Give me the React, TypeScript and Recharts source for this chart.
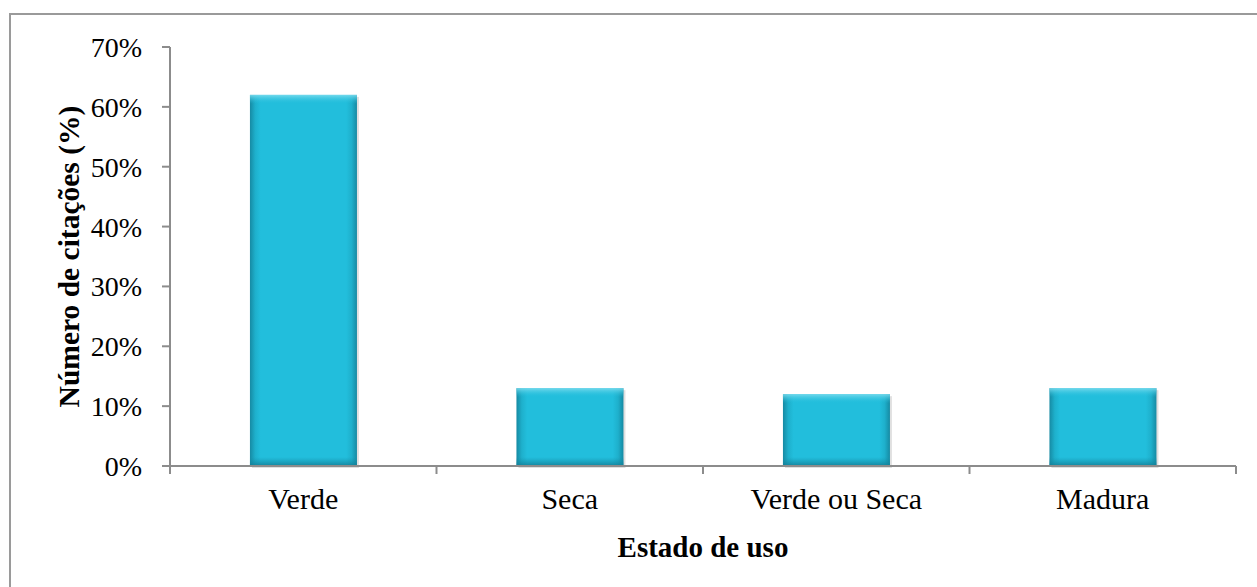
import React from "react"
import { BarChart, Bar, XAxis, YAxis } from "recharts"

const categories = ["Verde", "Seca", "Verde ou Seca", "Madura"]
const citacoes = [62, 13, 12, 13]
const yTicks = [0, 10, 20, 30, 40, 50, 60, 70]

const data = categories.map((name, i) => ({ name, value: citacoes[i] }))

const FONT = '"Liberation Serif", "Times New Roman", serif'
const AXIS = "#8c8c8c"

const CHART_W = 1257
const CHART_H = 587
const Y_AXIS_W = 170
const MARGIN = { top: 47, right: 21, bottom: 0, left: 0 }
const BAND = (CHART_W - Y_AXIS_W - MARGIN.right - MARGIN.left) / categories.length
const X_TICK_SIZE = 8
const X_TICK_MARGIN = 14

// category label plus Excel-style tick marks between the categories
const CategoryTick = (props: any) => {
  const { x, y, payload, index } = props
  const axisY = y - X_TICK_SIZE - X_TICK_MARGIN
  const left = x - BAND / 2
  const right = x + BAND / 2
  return (
    <g>
      <line x1={left} x2={left} y1={axisY} y2={axisY + X_TICK_SIZE} stroke={AXIS} strokeWidth={2} />
      {index === categories.length - 1 && (
        <line x1={right} x2={right} y1={axisY} y2={axisY + X_TICK_SIZE} stroke={AXIS} strokeWidth={2} />
      )}
      <text x={x} y={y} dy="0.71em" textAnchor="middle" fill="#000" fontSize={30} fontFamily={FONT}>
        {payload.value}
      </text>
    </g>
  )
}

// bevelled bar like the Excel "shape style" bars
const BevelBar = (props: any) => {
  const { x, y, width, height } = props
  if (!height || height <= 0) return null
  const band = Math.min(9, height / 3)
  return (
    <g>
      <rect x={x + 2} y={y + 2} width={width} height={height} fill="#000" opacity={0.12} />
      <rect x={x} y={y} width={width} height={height} fill="url(#barSides)" />
      <rect x={x} y={y} width={width} height={band} fill="url(#barTop)" />
      <rect x={x} y={y + height - band} width={width} height={band} fill="url(#barBottom)" />
    </g>
  )
}

const YTitle = ({ viewBox }: any) => {
  const cx = viewBox.x + 79
  const cy = viewBox.y + viewBox.height / 2
  return (
    <text
      x={cx}
      y={cy}
      transform={`rotate(-90, ${cx}, ${cy})`}
      textAnchor="middle"
      fill="#000"
      fontSize={29.5}
      fontWeight="bold"
      fontFamily={FONT}
    >
      Número de citações (%)
    </text>
  )
}

export default function App() {
  return (
    <div style={{ position: "absolute", left: 0, top: 0, width: CHART_W, height: CHART_H, background: "#fff" }}>
      <div
        style={{
          position: "absolute",
          left: 9,
          top: 13,
          width: 1300,
          height: 700,
          borderLeft: "2px solid #9a9a9a",
          borderTop: "2px solid #9a9a9a",
        }}
      />
      <div style={{ position: "absolute", left: 0, top: 0 }}>
        <BarChart
          width={CHART_W}
          height={CHART_H}
          data={data}
          margin={MARGIN}
          barCategoryGap="30%"
        >
          <defs>
            <linearGradient id="barSides" x1="0" y1="0" x2="1" y2="0">
              <stop offset="0%" stopColor="#168aa3" />
              <stop offset="5%" stopColor="#1eb0cc" />
              <stop offset="10%" stopColor="#22bedc" />
              <stop offset="90%" stopColor="#22bedc" />
              <stop offset="95%" stopColor="#1eb0cc" />
              <stop offset="100%" stopColor="#168aa3" />
            </linearGradient>
            <linearGradient id="barTop" x1="0" y1="0" x2="0" y2="1">
              <stop offset="0%" stopColor="#7ddcee" stopOpacity={0.9} />
              <stop offset="100%" stopColor="#22bedc" stopOpacity={0} />
            </linearGradient>
            <linearGradient id="barBottom" x1="0" y1="0" x2="0" y2="1">
              <stop offset="0%" stopColor="#1590aa" stopOpacity={0} />
              <stop offset="100%" stopColor="#137f97" stopOpacity={0.9} />
            </linearGradient>
          </defs>
          <XAxis
            dataKey="name"
            height={121}
            interval={0}
            tickLine={false}
            tickSize={X_TICK_SIZE}
            tickMargin={X_TICK_MARGIN}
            axisLine={{ stroke: AXIS, strokeWidth: 2 }}
            tick={<CategoryTick />}
            label={{
              value: "Estado de uso",
              position: "insideBottom",
              offset: 30,
              style: { fill: "#000", fontSize: 29, fontWeight: "bold", fontFamily: FONT },
            }}
          />
          <YAxis
            width={Y_AXIS_W}
            domain={[0, 70]}
            ticks={yTicks}
            interval={0}
            tickSize={8}
            tickMargin={20}
            tickFormatter={(v) => `${v}%`}
            axisLine={{ stroke: AXIS, strokeWidth: 2 }}
            tickLine={{ stroke: AXIS, strokeWidth: 2 }}
            tick={{ fill: "#000", fontSize: 28, fontFamily: FONT }}
            label={{ content: <YTitle /> }}
          />
          <Bar dataKey="value" shape={<BevelBar />} isAnimationActive={false} />
        </BarChart>
      </div>
    </div>
  )
}
